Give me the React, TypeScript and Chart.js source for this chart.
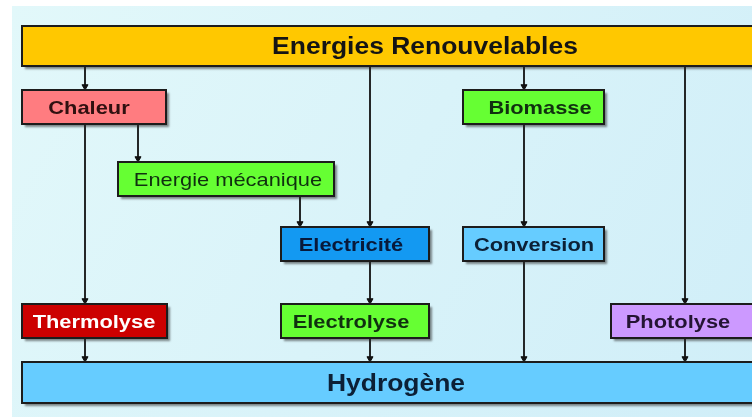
import React, { useEffect, useRef } from "react";
import { Chart, registerables } from "chart.js";

Chart.register(...registerables);

// Diagram content
const labels = [
  "Energies Renouvelables",
  "Chaleur",
  "Biomasse",
  "Energie mécanique",
  "Electricité",
  "Conversion",
  "Thermolyse",
  "Electrolyse",
  "Photolyse",
  "Hydrogène",
];
// Box extents in diagram units
const boxLeft = [22, 22, 463, 118, 281, 463, 22, 281, 611, 22];
const boxRight = [760, 166, 604, 334, 429, 604, 167, 429, 760, 760];
const boxTop = [26, 90, 90, 162, 227, 227, 304, 304, 304, 362];
const boxBottom = [66, 124, 124, 196, 261, 261, 338, 338, 338, 403];
const labelX = [425, 89, 540, 228, 351, 534, 94, 351, 678, 396];
// Links: [x, from box, to box]
const linkX = [85, 85, 85, 138, 300, 370, 370, 370, 524, 524, 524, 685, 685];
const linkFrom = [0, 1, 6, 1, 3, 0, 4, 7, 0, 2, 5, 0, 8];
const linkTo = [1, 6, 9, 3, 4, 4, 7, 9, 2, 5, 9, 8, 9];

// Styles
const fills = ["#FFC800", "#FF7C80", "#66FF33", "#66FF33", "#1399F2", "#66CCFF", "#CC0000", "#66FF33", "#CC99FF", "#66CCFF"];
const textColors = ["#141414", "#301010", "#103010", "#103010", "#08193a", "#0c2036", "#ffffff", "#103010", "#241434", "#0c2036"];
const fontSizes = [23, 19, 19, 19, 19, 19, 19, 19, 19, 23];
const fontWeights = ["bold", "bold", "bold", "normal", "bold", "bold", "bold", "bold", "bold", "bold"];

const ARROW_R = 3.5;

export default function App() {
  const ref = useRef<HTMLCanvasElement>(null);

  useEffect(() => {
    document.body.style.margin = "0";
    const canvas = ref.current!;
    const datasets = linkX.map((x, i) => ({
      data: [
        { x, y: boxBottom[linkFrom[i]] },
        { x, y: boxTop[linkTo[i]] - ARROW_R },
      ],
      showLine: true,
      borderColor: "#111111",
      backgroundColor: "#111111",
      borderWidth: 1.8,
      pointRadius: [0, ARROW_R],
      pointStyle: "triangle",
      rotation: 180,
      pointBorderWidth: 1,
      pointBorderColor: "#111111",
      pointBackgroundColor: "#111111",
      clip: false,
    }));

    const bgPlugin = {
      id: "bg",
      beforeDraw(chart: any) {
        const ctx = chart.ctx;
        const { x, y } = chart.scales;
        ctx.save();
        ctx.fillStyle = "#ffffff";
        ctx.fillRect(0, 0, chart.width, chart.height);
        const x0 = x.getPixelForValue(12);
        const y0 = y.getPixelForValue(6);
        const g = ctx.createLinearGradient(x0, y0, chart.width, chart.height);
        g.addColorStop(0, "#e2f8fa");
        g.addColorStop(1, "#d0eef8");
        ctx.fillStyle = g;
        ctx.fillRect(x0, y0, chart.width - x0, chart.height - y0);
        ctx.restore();
      },
    };

    const boxPlugin = {
      id: "boxes",
      afterDatasetsDraw(chart: any) {
        const ctx = chart.ctx;
        const { x, y } = chart.scales;
        labels.forEach((label, i) => {
          const l = x.getPixelForValue(boxLeft[i]);
          const r = x.getPixelForValue(boxRight[i]);
          const t = y.getPixelForValue(boxTop[i]);
          const b = y.getPixelForValue(boxBottom[i]);
          ctx.save();
          ctx.shadowColor = "rgba(40,40,40,0.55)";
          ctx.shadowOffsetX = 3;
          ctx.shadowOffsetY = 3;
          ctx.shadowBlur = 2;
          ctx.fillStyle = fills[i];
          ctx.fillRect(l, t, r - l, b - t);
          ctx.restore();
          ctx.save();
          ctx.strokeStyle = "#1c1c1c";
          ctx.lineWidth = 2;
          ctx.strokeRect(l, t, r - l, b - t);
          ctx.restore();
          ctx.save();
          ctx.fillStyle = textColors[i];
          ctx.font = `${fontWeights[i]} ${fontSizes[i]}px "Liberation Sans", Arial, sans-serif`;
          ctx.textAlign = "center";
          ctx.textBaseline = "middle";
          ctx.translate(x.getPixelForValue(labelX[i]), (t + b) / 2 + 2);
          ctx.scale(1.15, 1);
          ctx.fillText(label, 0, 0);
          ctx.restore();
        });
      },
    };

    const chart = new Chart(canvas, {
      type: "scatter",
      data: { datasets: datasets as any },
      options: {
        animation: false,
        responsive: false,
        devicePixelRatio: 1,
        layout: { padding: 0, autoPadding: false },
        plugins: { legend: { display: false }, tooltip: { enabled: false } },
        events: [],
        scales: {
          x: { type: "linear", min: 0, max: 752, display: false },
          y: { type: "linear", min: 0, max: 417, reverse: true, display: false },
        },
      },
      plugins: [bgPlugin, boxPlugin],
    });
    return () => chart.destroy();
  }, []);

  return (
    <div style={{ position: "fixed", left: 0, top: 0, width: 752, height: 417 }}>
      <canvas ref={ref} width={752} height={417} style={{ display: "block" }} />
    </div>
  );
}
